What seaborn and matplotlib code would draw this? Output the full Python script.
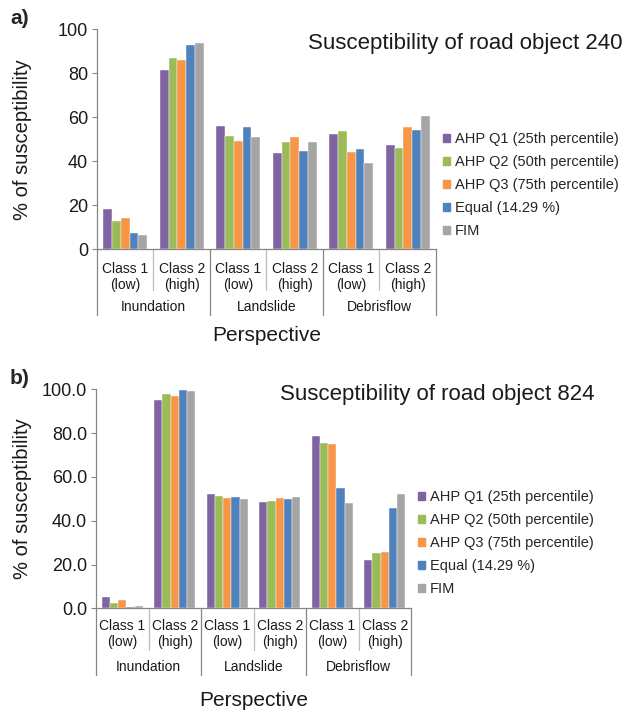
import pandas as pd
import numpy as np
import matplotlib
matplotlib.use("Agg")
import matplotlib.pyplot as plt
import seaborn as sns

sns.set_style("white")
plt.rcParams['font.family'] = ['Liberation Sans', 'DejaVu Sans']

# Data
groups = ['Inundation', 'Landslide', 'Debrisflow']
classes = ['Class 1\n(low)', 'Class 2\n(high)']
methods = ['AHP Q1 (25th percentile)', 'AHP Q2 (50th percentile)',
           'AHP Q3 (75th percentile)', 'Equal (14.29 %)', 'FIM']
colors = ['#8064A2', '#9BBB59', '#F79646', '#4F81BD', '#A5A5A5']

# road object 240: Inund C1, Inund C2, Land C1, Land C2, Debris C1, Debris C2
a_q1 = [18.3, 81.7, 56.1, 43.9, 52.4, 47.6]
a_q2 = [12.9, 87.1, 51.4, 48.6, 53.8, 46.1]
a_q3 = [14.1, 86.1, 49.2, 50.9, 44.4, 55.5]
a_equal = [7.3, 92.9, 55.5, 44.7, 45.6, 54.2]
a_fim = [6.4, 93.6, 51.2, 48.8, 39.1, 60.8]

# road object 824
b_q1 = [5.2, 95.2, 52.1, 48.5, 78.5, 22.1]
b_q2 = [2.4, 97.9, 51.4, 49.0, 75.5, 25.3]
b_q3 = [3.8, 96.8, 50.4, 50.4, 75.0, 25.7]
b_equal = [0.6, 99.8, 50.7, 49.8, 54.8, 46.0]
b_fim = [0.9, 99.4, 49.9, 50.7, 48.1, 52.4]

subcats = [g + ' ' + c for g in groups for c in classes]


def make_df(series):
    rows = []
    for m, vals in zip(methods, series):
        for s, v in zip(subcats, vals):
            rows.append({'subcat': s, 'method': m, 'value': v})
    return pd.DataFrame(rows)


df_a = make_df([a_q1, a_q2, a_q3, a_equal, a_fim])
df_b = make_df([b_q1, b_q2, b_q3, b_equal, b_fim])

W, H = 626, 713
fig = plt.figure(figsize=(W / 100, H / 100), dpi=100)


def px_axes(left, top, right, bottom):
    return fig.add_axes([left / W, 1 - bottom / H, (right - left) / W, (bottom - top) / H])


ax_a = px_axes(97, 29.3, 436, 249.3)
ax_b = px_axes(96, 389.3, 411, 608.3)


def draw_panel(ax, df, fmt, inner_px, outer_px, lab_px, grp_px, persp_px, ylab_x):
    sns.barplot(data=df, x='subcat', y='value', hue='method', order=subcats,
                hue_order=methods, palette=colors, saturation=1, width=0.78,
                ax=ax, legend=False, edgecolor='white', linewidth=0.3)
    ax.set_xlim(-0.5, 5.5)
    ax.set_ylim(0, 100)
    ax.set_yticks(np.arange(0, 101, 20))
    ax.set_yticklabels([fmt.format(v) for v in np.arange(0, 101, 20)])
    ax.tick_params(axis='y', labelsize=13, length=3.5, width=0.8, color='#868686',
                   labelcolor='#1a1a1a', left=True, pad=3)
    ax.set_xticks([])
    ax.set_xlabel('')
    for s in ['top', 'right']:
        ax.spines[s].set_visible(False)
    for s in ['left', 'bottom']:
        ax.spines[s].set_color('#868686')
        ax.spines[s].set_linewidth(0.9)
    ax.set_ylabel('% of susceptibility', fontsize=14.5, color='#1a1a1a')
    ax.yaxis.set_label_coords(ylab_x, 0.5)

    # Excel-style multi-level category axis
    h = ax.get_window_extent().height
    tr = ax.get_xaxis_transform()
    for i in range(7):
        x = i - 0.5
        depth = outer_px if i % 2 == 0 else inner_px
        col = '#868686' if i % 2 == 0 else '#bdbdbd'
        ax.plot([x, x], [0, -depth / h], transform=tr, color=col, lw=0.9,
                clip_on=False)
    for i, s in enumerate(subcats):
        ax.text(i, -lab_px / h, classes[i % 2], transform=tr, ha='center',
                va='center', fontsize=10, color='#1a1a1a', linespacing=1.15)
    for j, g in enumerate(groups):
        ax.text(2 * j + 0.5, -grp_px / h, g, transform=tr, ha='center',
                va='center', fontsize=10, color='#1a1a1a')
    ax.text(0.5, -persp_px / h, 'Perspective', transform=ax.transAxes,
            ha='center', va='center', fontsize=15, color='#1a1a1a')


draw_panel(ax_a, df_a, '{:.0f}', 41, 66, 27.5, 58, 86, -0.192)
draw_panel(ax_b, df_b, '{:.1f}', 42, 67, 25.5, 59, 92, -0.203)

fig.text(622 / W, 1 - 43 / H, 'Susceptibility of road object 240', ha='right',
         va='center', fontsize=16, color='#1a1a1a')
fig.text(595 / W, 1 - 394 / H, 'Susceptibility of road object 824', ha='right',
         va='center', fontsize=16, color='#1a1a1a')
fig.text(10 / W, 1 - 19 / H, 'a)', ha='left', va='center', fontsize=15,
         fontweight='bold')
fig.text(10 / W, 1 - 379 / H, 'b)', ha='left', va='center', fontsize=15,
         fontweight='bold')

handles = [plt.Rectangle((0, 0), 1, 1, color=c) for c in colors]
for x0, y0 in [(443, 132), (418, 490)]:
    fig.legend(handles, methods, loc='upper left',
               bbox_to_anchor=(x0 / W, 1 - y0 / H), frameon=False,
               fontsize=10.5, handlelength=0.5, handleheight=0.5,
               handletextpad=0.3, labelspacing=0.62, borderpad=0,
               borderaxespad=0)

fig.savefig('out.png', dpi=100)
